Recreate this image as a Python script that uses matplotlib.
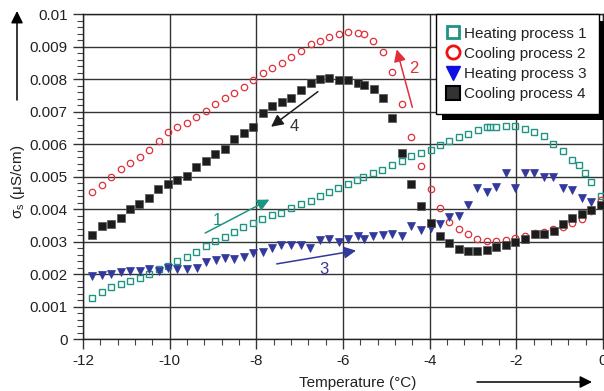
import numpy as np
import matplotlib
matplotlib.use('Agg')
from matplotlib import pyplot as plt
from matplotlib.lines import Line2D
from matplotlib.ticker import MultipleLocator, FixedLocator, FixedFormatter
import matplotlib.patheffects as pe

plt.rcParams['font.family'] = ['Liberation Sans', 'DejaVu Sans']
plt.rcParams['axes.unicode_minus'] = False
plt.rcParams['mathtext.fontset'] = 'custom'
plt.rcParams['mathtext.rm'] = 'Liberation Sans'

# Heating process 1
x1 = [-11.79, -11.57, -11.35, -11.13, -10.91, -10.68, -10.47, -10.25, -10.04, -9.82,
      -9.60, -9.39, -9.17, -8.95, -8.73, -8.51, -8.30, -8.07, -7.86, -7.64,
      -7.42, -7.20, -6.97, -6.75, -6.54, -6.32, -6.11, -5.88, -5.67, -5.53,
      -5.31, -5.09, -4.86, -4.65, -4.42, -4.21, -3.98, -3.76, -3.55, -3.33,
      -3.12, -2.89, -2.68, -2.60, -2.46, -2.24, -2.02, -1.80, -1.59, -1.36,
      -1.15, -0.92, -0.71, -0.56, -0.42, -0.27, -0.05]
y1 = [0.00128, 0.00146, 0.00160, 0.00169, 0.00178, 0.00190, 0.00200, 0.00216, 0.00225, 0.00240,
      0.00254, 0.00270, 0.00287, 0.00303, 0.00316, 0.00330, 0.00345, 0.00357, 0.00369, 0.00382,
      0.00390, 0.00404, 0.00416, 0.00426, 0.00441, 0.00452, 0.00465, 0.00479, 0.00489, 0.00498,
      0.00511, 0.00522, 0.00536, 0.00549, 0.00563, 0.00572, 0.00584, 0.00597, 0.00611, 0.00623,
      0.00631, 0.00645, 0.00652, 0.00652, 0.00652, 0.00656, 0.00656, 0.00648, 0.00639, 0.00625,
      0.00601, 0.00578, 0.00552, 0.00535, 0.00512, 0.00485, 0.00442]

# Cooling process 2
x2 = [-11.79, -11.57, -11.35, -11.13, -10.92, -10.69, -10.48, -10.25, -10.04, -9.82,
      -9.60, -9.39, -9.17, -8.95, -8.73, -8.51, -8.29, -8.07, -7.85, -7.64,
      -7.41, -7.19, -6.98, -6.75, -6.54, -6.32, -6.10, -5.88, -5.66, -5.52,
      -5.30, -5.08, -4.86, -4.65, -4.42, -4.21, -3.98, -3.77, -3.55, -3.33,
      -3.11, -2.90, -2.67, -2.46, -2.24, -2.02, -1.80, -1.58, -1.36, -1.15,
      -0.92, -0.71, -0.48, -0.27, -0.05]
y2 = [0.00452, 0.00474, 0.00499, 0.00523, 0.00543, 0.00561, 0.00583, 0.00610, 0.00637, 0.00652,
      0.00666, 0.00684, 0.00703, 0.00724, 0.00742, 0.00758, 0.00777, 0.00797, 0.00820, 0.00836,
      0.00850, 0.00870, 0.00888, 0.00908, 0.00918, 0.00931, 0.00938, 0.00946, 0.00942, 0.00938,
      0.00917, 0.00883, 0.00822, 0.00723, 0.00623, 0.00534, 0.00462, 0.00403, 0.00361, 0.00340,
      0.00323, 0.00309, 0.00303, 0.00302, 0.00306, 0.00311, 0.00318, 0.00326, 0.00330, 0.00338,
      0.00347, 0.00358, 0.00371, 0.00395, 0.00428]

# Heating process 3
x3 = [-11.79, -11.57, -11.35, -11.13, -10.91, -10.69, -10.47, -10.25, -10.04, -9.82,
      -9.60, -9.38, -9.17, -8.94, -8.73, -8.51, -8.29, -8.07, -7.85, -7.64,
      -7.42, -7.20, -6.98, -6.76, -6.54, -6.32, -6.10, -5.88, -5.66, -5.52,
      -5.30, -5.08, -4.86, -4.64, -4.42, -4.20, -3.98, -3.76, -3.55, -3.32,
      -3.11, -2.90, -2.67, -2.46, -2.24, -2.02, -1.80, -1.59, -1.36, -1.15,
      -0.92, -0.71, -0.48, -0.27]
y3 = [0.00196, 0.00197, 0.00201, 0.00208, 0.00211, 0.00211, 0.00216, 0.00209, 0.00219, 0.00217,
      0.00215, 0.00220, 0.00238, 0.00245, 0.00250, 0.00247, 0.00253, 0.00266, 0.00270, 0.00282,
      0.00290, 0.00290, 0.00290, 0.00281, 0.00306, 0.00309, 0.00300, 0.00309, 0.00318, 0.00309,
      0.00319, 0.00322, 0.00325, 0.00318, 0.00349, 0.00336, 0.00343, 0.00354, 0.00375, 0.00379,
      0.00413, 0.00466, 0.00452, 0.00469, 0.00513, 0.00466, 0.00513, 0.00513, 0.00499, 0.00499,
      0.00466, 0.00458, 0.00436, 0.00422]

# Cooling process 4
x4 = [-11.79, -11.57, -11.35, -11.13, -10.91, -10.70, -10.48, -10.26, -10.04, -9.82,
      -9.60, -9.39, -9.17, -8.95, -8.73, -8.51, -8.29, -8.07, -7.85, -7.63,
      -7.41, -7.19, -6.98, -6.75, -6.54, -6.32, -6.10, -5.88, -5.66, -5.52,
      -5.29, -5.08, -4.86, -4.65, -4.42, -4.21, -3.98, -3.77, -3.55, -3.33,
      -3.11, -2.90, -2.67, -2.46, -2.23, -2.02, -1.79, -1.58, -1.36, -1.14,
      -0.92, -0.71, -0.48, -0.27, -0.05]
y4 = [0.00321, 0.00349, 0.00354, 0.00372, 0.00400, 0.00416, 0.00436, 0.00462, 0.00478, 0.00489,
      0.00502, 0.00529, 0.00548, 0.00569, 0.00586, 0.00615, 0.00634, 0.00654, 0.00695, 0.00717,
      0.00729, 0.00742, 0.00766, 0.00788, 0.00802, 0.00805, 0.00798, 0.00798, 0.00789, 0.00782,
      0.00769, 0.00742, 0.00680, 0.00572, 0.00477, 0.00409, 0.00357, 0.00318, 0.00295, 0.00278,
      0.00273, 0.00271, 0.00274, 0.00284, 0.00290, 0.00298, 0.00308, 0.00323, 0.00324, 0.00334,
      0.00354, 0.00372, 0.00385, 0.00398, 0.00412]

labels = ['Heating process 1', 'Cooling process 2', 'Heating process 3', 'Cooling process 4']
yticks = [0, 0.001, 0.002, 0.003, 0.004, 0.005, 0.006, 0.007, 0.008, 0.009, 0.01]
ytick_labels = ['0', '0.001', '0.002', '0.003', '0.004', '0.005', '0.006', '0.007', '0.008', '0.009', '0.01']
xticks = [-12, -10, -8, -6, -4, -2, 0]

GREEN = '#1f9482'
RED = '#e0303a'
BLUE = '#33389c'
BLACK = '#1c1c1c'
TXT = '#222222'

fig = plt.figure(figsize=(6.04, 3.91), dpi=100)
ax = fig.add_axes([83/604, 1 - 339.3/391, 520/604, 325/391])

ax.plot(x1, y1, ls='none', marker='s', ms=4.6, mfc='none', mec=GREEN, mew=1.0, zorder=3)
ax.plot(x2, y2, ls='none', marker='o', ms=4.6, mfc='none', mec=RED, mew=0.9, zorder=3)
ax.plot(x3, y3, ls='none', marker='v', ms=5.2, mfc=BLUE, mec=BLUE, mew=0.5, zorder=3)
ax.plot(x4, y4, ls='none', marker='s', ms=5.2, mfc=BLACK, mec='#555555', mew=0.5, zorder=3)

ax.set_xlim(-12, 0)
ax.set_ylim(0, 0.01)
ax.xaxis.set_major_locator(FixedLocator(xticks))
ax.xaxis.set_minor_locator(MultipleLocator(0.4))
ax.yaxis.set_major_locator(FixedLocator(yticks))
ax.yaxis.set_major_formatter(FixedFormatter(ytick_labels))
ax.yaxis.set_minor_locator(MultipleLocator(0.0002))
ax.grid(True, which='major', color='#333333', lw=1.0)
ax.set_axisbelow(True)
ax.tick_params(which='major', direction='out', length=7, width=1, color='#333333',
               labelsize=11, labelcolor=TXT, pad=4)
ax.tick_params(which='minor', direction='out', length=4, width=0.8, color='#444444')
ax.tick_params(axis='x', pad=3.5)
for sp in ax.spines.values():
    sp.set_color('#222222')
    sp.set_linewidth(1.0)

# process arrows with numbers
arr = dict(arrowstyle='-|>', mutation_scale=18, shrinkA=0, shrinkB=0, lw=1.1)
ax.annotate('', xy=(-7.7, 0.00430), xytext=(-9.18, 0.00327), arrowprops=dict(arr, color=GREEN))
ax.text(-8.91, 0.00365, '1', color=GREEN, fontsize=12, ha='center', va='center')
ax.annotate('', xy=(-4.76, 0.00892), xytext=(-4.40, 0.00714), arrowprops=dict(arr, color=RED))
ax.text(-4.37, 0.00832, '2', color=RED, fontsize=12, ha='center', va='center')
ax.annotate('', xy=(-5.70, 0.00273), xytext=(-7.53, 0.00232), arrowprops=dict(arr, color=BLUE))
ax.text(-6.44, 0.00216, '3', color=BLUE, fontsize=12, ha='center', va='center')
ax.annotate('', xy=(-7.66, 0.00654), xytext=(-6.58, 0.00762), arrowprops=dict(arr, color=BLACK))
ax.text(-7.13, 0.00654, '4', color='#333333', fontsize=12, ha='center', va='center')

# legend
handles = [
    Line2D([], [], ls='none', marker='s', ms=9, mfc='none', mec=GREEN, mew=2),
    Line2D([], [], ls='none', marker='o', ms=9.5, mfc='none', mec='#ee1111', mew=2),
    Line2D([], [], ls='none', marker='v', ms=10, mfc='#1010e0', mec='#1010e0'),
    Line2D([], [], ls='none', marker='s', ms=10, mfc='#333333', mec='black', mew=1.5),
]
leg = ax.legend(handles, labels, loc='upper right', bbox_to_anchor=(516/520, 1.0),
                borderaxespad=0, fontsize=11, frameon=True, fancybox=False,
                edgecolor='black', framealpha=1, handlelength=0.7, handletextpad=0.37,
                labelspacing=0.41, borderpad=0.8)
for t in leg.get_texts():
    t.set_color(TXT)
leg.get_frame().set_linewidth(1.0)
leg.get_frame().set_path_effects([pe.SimplePatchShadow(offset=(4.5, -5), shadow_rgbFace='black', alpha=1.0),
                                  pe.Normal()])

# axis labels with arrows
fig.text(18/604, 1 - 182/391, 'σ$_\\mathregular{s}$ (μS/cm)', rotation=90, ha='center', va='center',
         fontsize=11, color=TXT)
fig.text(358/604, 1 - 383/391, 'Temperature (°C)', ha='center', va='center', fontsize=11, color=TXT)
ax.annotate('', xy=(17, 391 - 11), xytext=(17, 391 - 100), xycoords='figure pixels',
            textcoords='figure pixels', arrowprops=dict(arr, color='black'))
ax.annotate('', xy=(592, 391 - 382), xytext=(477, 391 - 382), xycoords='figure pixels',
            textcoords='figure pixels', arrowprops=dict(arr, color='black'))

fig.savefig('out.png', dpi=100)
